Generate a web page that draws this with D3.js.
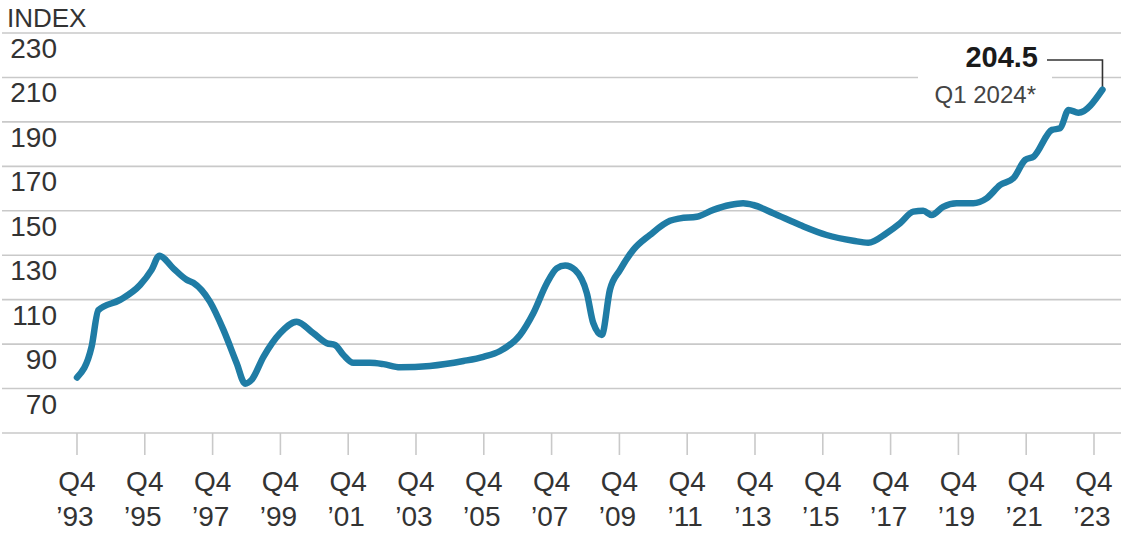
<!DOCTYPE html>
<html lang="en">

<head>
  <meta charset="utf-8">
  <title>Index Q4 '93 - Q1 2024</title>
  <script src="https://d3js.org/d3.v7.min.js" charset="utf-8"></script>
  <style type="text/css">
    body { margin: 0; background: #fff; }
    text { font-family: "Liberation Sans", Arial, sans-serif; fill: #333; }
  </style>
</head>

<body>
  <svg id="chart" width="1124" height="533" xmlns="http://www.w3.org/2000/svg"></svg>
  <script type="text/javascript">
    var dates = [
      1993.75, 1994.18, 1994.38, 1995.02, 1995.61, 1995.95, 1996.18, 1996.59, 1996.99, 1997.18,
      1997.67, 1998.07, 1998.46, 1998.71, 1998.90, 1999.25, 1999.74, 2000.23, 2000.72, 2001.12,
      2001.36, 2001.61, 2001.90, 2002.39, 2002.79, 2003.28, 2004.16, 2005.15, 2005.74, 2006.23,
      2006.82, 2007.21, 2007.61, 2007.90, 2008.15, 2008.44, 2008.79, 2008.98, 2009.23, 2009.47,
      2009.77, 2010.16, 2010.65, 2011.24, 2011.54, 2012.03, 2012.52, 2013.01, 2013.40, 2013.70,
      2014.29, 2015.08, 2015.86, 2016.65, 2017.09, 2017.63, 2018.03, 2018.42, 2018.71, 2018.96,
      2019.30, 2019.70, 2020.19, 2020.58, 2020.98, 2021.37, 2021.72, 2021.97, 2022.51, 2022.75,
      2023.00, 2023.29, 2024.00
    ];
    var values = [
      75.0, 88.8, 105.3, 109.9, 116.6, 123.4, 129.8, 124.1, 118.9, 117.6,
      109.1, 96.4, 81.4, 72.2, 73.9, 84.3, 94.9, 100.1, 94.9, 90.4,
      89.6, 85.1, 81.6, 81.6, 81.0, 79.6, 80.2, 82.4, 84.3, 86.9,
      94.1, 103.9, 117.4, 124.1, 125.4, 123.4, 112.9, 99.4, 94.1, 114.4,
      123.4, 132.4, 139.1, 145.5, 146.6, 147.3, 150.4, 152.6, 153.4, 152.6,
      148.9, 143.6, 139.1, 136.5, 135.6, 139.9, 144.4, 149.6, 150.0, 148.1,
      151.8, 153.4, 153.4, 155.6, 161.6, 164.6, 172.9, 174.4, 186.4, 187.1,
      195.4, 194.1, 204.5
    ];

    var yTicks = [230, 210, 190, 170, 150, 130, 110, 90, 70];
    var xTickDates = [1993.75, 1995.75, 1997.75, 1999.75, 2001.75, 2003.75, 2005.75, 2007.75,
      2009.75, 2011.75, 2013.75, 2015.75, 2017.75, 2019.75, 2021.75, 2023.75];
    var xTickYears = ["’93", "’95", "’97", "’99", "’01", "’03", "’05", "’07",
      "’09", "’11", "’13", "’15", "’17", "’19", "’21", "’23"];

    var lastValue = "204.5";
    var lastLabel = "Q1 2024*";

    var svg = d3.select("#chart");
    var x = d3.scaleLinear().domain([1993.75, 2023.75]).range([77, 1094]);
    var y = d3.scaleLinear().domain([50, 230]).range([433, 33]);

    svg.append("rect").attr("width", 1124).attr("height", 533).attr("fill", "#fff");

    // grid lines, bottom one is the axis
    svg.selectAll("line.grid")
      .data(yTicks.concat([50]))
      .enter().append("line")
      .attr("class", "grid")
      .attr("x1", 2).attr("x2", 1121)
      .attr("y1", function(d) { return y(d); })
      .attr("y2", function(d) { return y(d); })
      .style("stroke", "#c9c9c9")
      .style("stroke-width", 1.6);

    svg.selectAll("text.ylab")
      .data(yTicks)
      .enter().append("text")
      .attr("class", "ylab")
      .attr("x", 57)
      .attr("y", function(d) { return y(d) + 25; })
      .attr("text-anchor", "end")
      .style("font-size", "28px")
      .text(function(d) { return d; });

    svg.append("text")
      .attr("x", 7).attr("y", 27)
      .style("font-size", "26px")
      .text("INDEX");

    var xAxis = svg.append("g");
    xTickDates.forEach(function(d, i) {
      var px = x(d);
      xAxis.append("line")
        .attr("x1", px).attr("x2", px)
        .attr("y1", y(50)).attr("y2", y(50) + 22)
        .style("stroke", "#c9c9c9")
        .style("stroke-width", 1.6);
      xAxis.append("text")
        .attr("x", px).attr("y", 491)
        .attr("text-anchor", "middle")
        .style("font-size", "28px")
        .text("Q4");
      xAxis.append("text")
        .attr("x", px - 2).attr("y", 526)
        .attr("text-anchor", "middle")
        .style("font-size", "28px")
        .text(xTickYears[i]);
    });

    // annotation box covers the grid behind the labels
    var endX = x(dates[dates.length - 1]);
    var endY = y(values[values.length - 1]);
    svg.append("rect")
      .attr("x", 918).attr("y", 40)
      .attr("width", 134).attr("height", 70)
      .attr("fill", "#fff");

    svg.append("path")
      .attr("d", "M1047," + 60 + "H" + endX + "V" + endY)
      .style("fill", "none")
      .style("stroke", "#333")
      .style("stroke-width", 1.6);

    svg.append("text")
      .attr("x", 1038).attr("y", 67)
      .attr("text-anchor", "end")
      .style("font-size", "29px")
      .style("font-weight", "bold")
      .style("fill", "#1a1a1a")
      .text(lastValue);

    svg.append("text")
      .attr("x", 1036).attr("y", 103)
      .attr("text-anchor", "end")
      .style("font-size", "24px")
      .style("fill", "#444")
      .text(lastLabel);

    var line = d3.line()
      .x(function(d, i) { return x(dates[i]); })
      .y(function(d) { return y(d); })
      .curve(d3.curveMonotoneX);

    svg.append("path")
      .datum(values)
      .attr("d", line)
      .style("fill", "none")
      .style("stroke", "#1f7ca5")
      .style("stroke-width", 6.5)
      .style("stroke-linejoin", "round")
      .style("stroke-linecap", "round");
  </script>
</body>

</html>
